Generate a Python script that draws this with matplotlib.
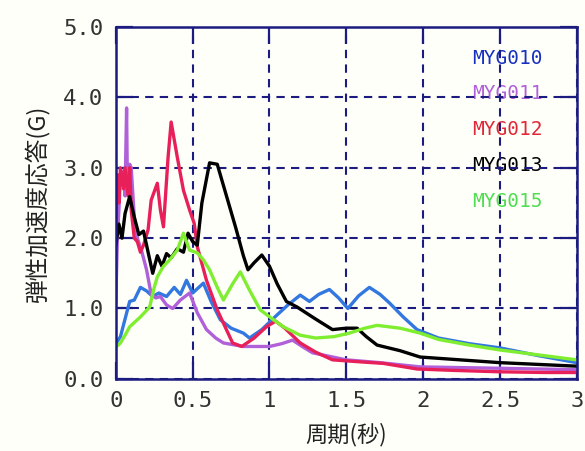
import matplotlib
matplotlib.use('Agg')
import matplotlib.pyplot as plt

# response spectra (period in s, acceleration in G)
x_010 = [0.0, 0.03, 0.06, 0.09, 0.12, 0.16, 0.2, 0.24, 0.28, 0.33, 0.38, 0.42, 0.46, 0.5, 0.54, 0.57,
         0.62, 0.68, 0.75, 0.83, 0.87, 0.95, 1.05, 1.12, 1.2, 1.26, 1.32, 1.39, 1.45, 1.51, 1.58, 1.65,
         1.72, 1.78, 1.87, 1.96, 2.1, 2.3, 2.5, 2.75, 3.0]
y_010 = [0.5, 0.6, 0.85, 1.1, 1.12, 1.3, 1.25, 1.17, 1.22, 1.17, 1.3, 1.2, 1.4, 1.22, 1.3, 1.36,
         1.1, 0.84, 0.72, 0.65, 0.58, 0.7, 0.91, 1.05, 1.19, 1.1, 1.2, 1.27, 1.15, 1.0, 1.18, 1.3,
         1.2, 1.08, 0.88, 0.7, 0.58, 0.5, 0.44, 0.33, 0.23]

x_011 = [0.0, 0.01, 0.02, 0.03, 0.05, 0.06, 0.07, 0.075, 0.09, 0.1, 0.12, 0.14, 0.17, 0.2, 0.23,
         0.26, 0.29, 0.33, 0.37, 0.42, 0.48, 0.53, 0.59, 0.65, 0.7, 0.83, 1.0, 1.08, 1.15, 1.22, 1.28,
         1.5, 1.72, 1.98, 2.5, 3.0]
y_011 = [1.1, 2.0, 2.4, 2.9, 2.95, 2.6, 3.85, 2.8, 3.05, 3.0, 2.3, 2.0, 1.8, 1.55, 1.2,
         1.15, 1.17, 1.05, 1.0, 1.12, 1.22, 0.94, 0.7, 0.58, 0.51, 0.46, 0.46, 0.5, 0.55, 0.45, 0.37,
         0.27, 0.23, 0.17, 0.15, 0.13]

x_012 = [0.0, 0.01, 0.02, 0.03, 0.05, 0.06, 0.08, 0.09, 0.1, 0.12, 0.14, 0.16, 0.18, 0.21, 0.23,
         0.27, 0.29, 0.31, 0.34, 0.36, 0.4, 0.44, 0.48, 0.51, 0.53, 0.59, 0.66, 0.76, 0.82, 0.9, 0.98,
         1.04, 1.1, 1.2, 1.3, 1.41, 1.6, 1.74, 1.96, 2.2, 2.5, 2.8, 3.0]
y_012 = [2.3, 2.9, 2.5, 3.0, 2.7, 3.0, 2.6, 3.0, 2.4, 2.0, 1.95, 1.8, 1.9, 2.12, 2.54,
         2.78, 2.4, 2.16, 3.15, 3.65, 3.15, 2.68, 2.4, 2.21, 1.88, 1.4, 0.98, 0.51, 0.46, 0.58, 0.74,
         0.82, 0.72, 0.51, 0.38, 0.27, 0.24, 0.22, 0.14, 0.12, 0.1, 0.09, 0.09]

x_013 = [0.0, 0.02, 0.04, 0.06, 0.09, 0.12, 0.15, 0.18, 0.2, 0.22, 0.24, 0.27, 0.3, 0.33, 0.36,
         0.4, 0.44, 0.47, 0.5, 0.53, 0.56, 0.61, 0.66, 0.72, 0.78, 0.83, 0.86, 0.9, 0.95, 1.0, 1.05,
         1.11, 1.18, 1.3, 1.41, 1.5, 1.57, 1.63, 1.7, 1.85, 1.98, 2.24, 2.5, 3.0]
y_013 = [1.9, 2.2, 2.0, 2.35, 2.59, 2.3, 2.05, 2.1, 1.9, 1.7, 1.5, 1.75, 1.6, 1.78, 1.72,
         1.85, 1.8, 2.07, 1.95, 1.9, 2.5, 3.07, 3.05, 2.6, 2.15, 1.75, 1.55, 1.65, 1.76, 1.6, 1.35,
         1.1, 1.02, 0.85, 0.7, 0.72, 0.72, 0.6, 0.48, 0.4, 0.31, 0.27, 0.23, 0.18]

x_015 = [0.0, 0.03, 0.06, 0.09, 0.16, 0.22, 0.25, 0.27, 0.31, 0.35, 0.4, 0.44, 0.48, 0.53, 0.57,
         0.61, 0.66, 0.7, 0.76, 0.81, 0.87, 0.94, 1.02, 1.09, 1.2, 1.3, 1.42, 1.52, 1.62, 1.7, 1.85,
         1.98, 2.1, 2.3, 2.5, 2.75, 3.0]
y_015 = [0.45, 0.51, 0.62, 0.74, 0.88, 1.02, 1.3, 1.45, 1.6, 1.69, 1.83, 2.07, 1.83, 1.79, 1.69,
         1.55, 1.3, 1.12, 1.35, 1.52, 1.26, 0.98, 0.85, 0.74, 0.62, 0.58, 0.6, 0.65, 0.72, 0.76, 0.72,
         0.65, 0.56, 0.48, 0.41, 0.34, 0.27]

names = ['MYG010', 'MYG011', 'MYG012', 'MYG013', 'MYG015']
line_colors = ['#3377e0', '#b060d8', '#e8205a', '#000000', '#80ee30']
text_colors = ['#1830c0', '#b060d8', '#e02838', '#000000', '#50dd50']
xs = [x_010, x_011, x_012, x_013, x_015]
ys = [y_010, y_011, y_012, y_013, y_015]

navy = '#1c1c80'
mono = ['DejaVu Sans Mono']
jp = ['Noto Sans CJK JP', 'DejaVu Sans']

fig = plt.figure(figsize=(5.85, 4.51), dpi=100, facecolor='#fffffa')
ax = fig.add_axes([0.198, 0.16, 0.788, 0.78])
ax.set_facecolor('#fffffa')

for x, y, c in zip(xs, ys, line_colors):
    ax.plot(x, y, color=c, lw=2.4, zorder=3)

# station labels, stacked top right
for i, (n, c) in enumerate(zip(names, text_colors)):
    ax.text(2.32, 4.56 - 0.51 * i, n, color=c, fontsize=14, family=mono,
            va='center', ha='left', zorder=2)

ax.set_xlim(0, 3)
ax.set_ylim(0, 5)
ax.set_xticks([0, 0.5, 1, 1.5, 2, 2.5, 3])
ax.set_xticklabels(['0', '0.5', '1', '1.5', '2', '2.5', '3'])
ax.set_yticks([0, 1, 2, 3, 4, 5])
ax.set_yticklabels(['0.0', '1.0', '2.0', '3.0', '4.0', '5.0'])
ax.grid(True, color=navy, ls=(0, (4, 3)), lw=1.5, zorder=4)
ax.set_axisbelow(False)
ax.tick_params(direction='in', length=12, width=1.6, color=navy, top=True, right=True,
               labelsize=16, pad=9)
for lab in ax.get_xticklabels() + ax.get_yticklabels():
    lab.set_family(mono)
    lab.set_color('#333333')
for s in ax.spines.values():
    s.set_color(navy)
    s.set_linewidth(1.8)
    s.set_zorder(5)

ax.set_xlabel('周期(秒)', fontsize=16, family=jp, labelpad=8, color='#222222')
ax.set_ylabel('弾性加速度応答(G)', fontsize=17, family=jp, labelpad=10, color='#222222')

fig.savefig('out.png', dpi=100, facecolor=fig.get_facecolor())
